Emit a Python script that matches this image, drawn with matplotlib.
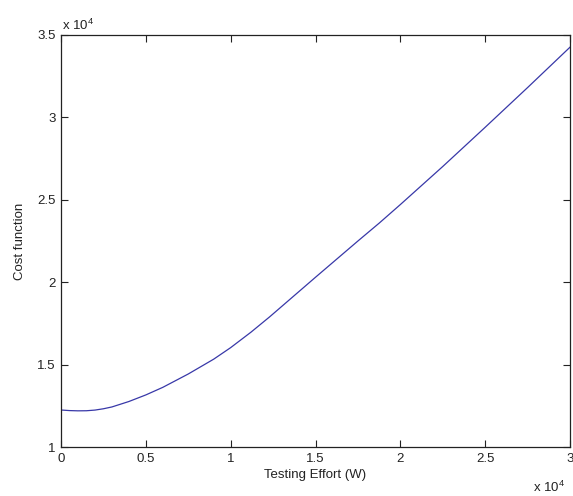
import matplotlib
matplotlib.use("Agg")
import matplotlib.pyplot as plt
import numpy as np

plt.rcParams['font.family'] = ['Liberation Sans', 'DejaVu Sans']

# Testing effort (W) and cost function values
effort = [0, 500, 1000, 1500, 2000, 2500, 3000, 4000, 5000, 6000, 7500, 9000,
          10000, 11200, 12300, 15000, 17500, 18760, 20000, 22500, 25000,
          27500, 30000]
cost = [12245, 12210, 12195, 12200, 12240, 12320, 12430, 12760, 13160,
        13620, 14430, 15330, 16030, 16970, 17900, 20300, 22500, 23590,
        24710, 27020, 29400, 31810, 34260]

xticks = [0, 0.5, 1, 1.5, 2, 2.5, 3]
yticks = [1, 1.5, 2, 2.5, 3, 3.5]
xtick_labels = ['0', '0.5', '1', '1.5', '2', '2.5', '3']
ytick_labels = ['1', '1.5', '2', '2.5', '3', '3.5']

W, H = 573, 496
fig = plt.figure(figsize=(W / 100, H / 100), dpi=100)
fig.patch.set_facecolor('white')
ax = fig.add_axes([61 / W, 1 - 447 / H, (570 - 61) / W, (447 - 35) / H])

scale = 1e4
ax.plot(np.array(effort) / scale, np.array(cost) / scale, color='#3838a8', lw=0.9)

ax.set_xlim(0, 3)
ax.set_ylim(1, 3.5)
ax.set_xticks(xticks)
ax.set_xticklabels(xtick_labels)
ax.set_yticks(yticks)
ax.set_yticklabels(ytick_labels)

fs = 9.5
ax.tick_params(direction='in', top=True, right=True, length=5, width=0.8,
               labelsize=fs, colors='#222222', pad=4)
for s in ax.spines.values():
    s.set_linewidth(0.9)
    s.set_color('#222222')

ax.set_xlabel('Testing Effort (W)', fontsize=fs, labelpad=3, color='#222222')
ax.set_ylabel('Cost function', fontsize=fs, labelpad=8, color='#222222')

fig.text(62 / W, 1 - 30 / H, r'x 10$^{\mathregular{4}}$', fontsize=fs,
         color='#222222', ha='left', va='baseline')
fig.text(533 / W, 1 - 492 / H, r'x 10$^{\mathregular{4}}$', fontsize=fs,
         color='#222222', ha='left', va='baseline')

fig.savefig('out.png', dpi=100, facecolor='white')
